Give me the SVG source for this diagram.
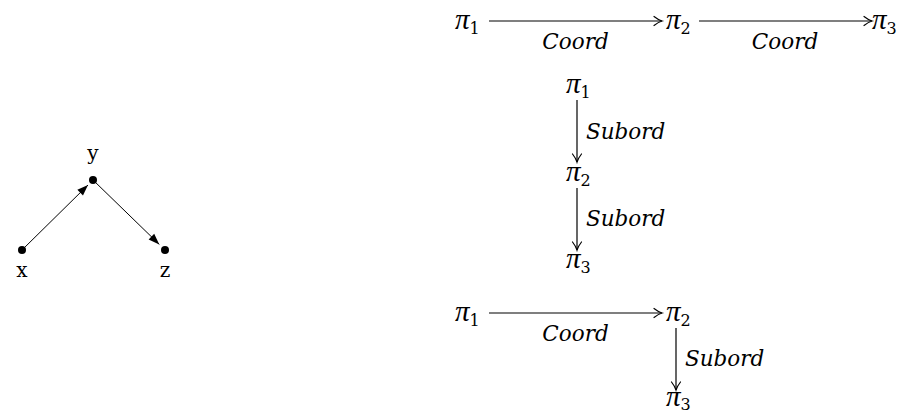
<svg xmlns="http://www.w3.org/2000/svg" width="907" height="414" viewBox="0 0 907 414">
  <style>
    .pt { font-family: "DejaVu Serif", "Liberation Serif", serif; font-size: 20px; fill: #000; }
    .pi { font-family: "Liberation Serif", "DejaVu Serif", serif; font-size: 29px; font-style: italic; fill: #000; }
    .pi tspan.sub { font-family: "DejaVu Serif", "Liberation Serif", serif; font-style: normal; font-size: 16px; }
    .lbl { font-family: "DejaVu Serif", "Liberation Serif", serif; font-size: 21.5px; font-style: italic; fill: #000; }
    .dot { fill: #000; }
    .morph { stroke: #000; stroke-width: 1.2; fill: none; marker-end: url(#to); }
    .tri { stroke: #000; stroke-width: 1; fill: none; marker-end: url(#tri); }
  </style>
  <defs>
    <marker id="to" markerUnits="userSpaceOnUse" markerWidth="12" markerHeight="12" viewBox="-10 -6 12 12" refX="0" refY="0" orient="auto" overflow="visible">
      <path d="M -8 -4.5 Q -3.5 -1 0 0 Q -3.5 1 -8 4.5" fill="none" stroke="#000" stroke-width="1.2" stroke-linecap="round"/>
    </marker>
    <marker id="tri" markerUnits="userSpaceOnUse" markerWidth="14" markerHeight="14" viewBox="-12 -6 14 12" refX="0" refY="0" orient="auto" overflow="visible">
      <path d="M 0 0 L -11 -4 L -11 4 Z" fill="#000"/>
    </marker>
  </defs>

  <!-- connectors: graph edges and labelled morphisms -->
  <g id="connectors">
    <line class="tri" x1="22" y1="250" x2="88" y2="185"/>
    <line class="tri" x1="93" y1="180" x2="159.3" y2="244.4"/>

    <!-- row of coordinations -->
    <line class="morph" x1="489" y1="21" x2="662" y2="21"/>
    <line class="morph" x1="699" y1="21" x2="872" y2="21"/>
    <text class="lbl" x="575.5" y="49" text-anchor="middle">Coord</text>
    <text class="lbl" x="785" y="49" text-anchor="middle">Coord</text>

    <!-- chain of subordinations -->
    <line class="morph" x1="577" y1="100" x2="577" y2="162"/>
    <line class="morph" x1="577" y1="188" x2="577" y2="250"/>
    <text class="lbl" x="586" y="139">Subord</text>
    <text class="lbl" x="586" y="226">Subord</text>

    <!-- coordination then subordination -->
    <line class="morph" x1="489" y1="313" x2="662" y2="313"/>
    <line class="morph" x1="676" y1="328" x2="676" y2="390"/>
    <text class="lbl" x="575.5" y="341" text-anchor="middle">Coord</text>
    <text class="lbl" x="685" y="366">Subord</text>
  </g>

  <g id="node-x">
    <circle class="dot" cx="22" cy="250" r="4"/>
    <text class="pt" x="22" y="277" text-anchor="middle">x</text>
  </g>
  <g id="node-y">
    <circle class="dot" cx="93" cy="180" r="4"/>
    <text class="pt" x="93" y="160" text-anchor="middle">y</text>
  </g>
  <g id="node-z">
    <circle class="dot" cx="165" cy="250" r="4"/>
    <text class="pt" x="165" y="277" text-anchor="middle">z</text>
  </g>

  <g id="row1-pi1"><text class="pi" x="455" y="29">π<tspan class="sub" dy="5">1</tspan></text></g>
  <g id="row1-pi2"><text class="pi" x="666" y="29">π<tspan class="sub" dy="5">2</tspan></text></g>
  <g id="row1-pi3"><text class="pi" x="872" y="29">π<tspan class="sub" dy="5">3</tspan></text></g>

  <g id="col-pi1"><text class="pi" x="566" y="93">π<tspan class="sub" dy="5">1</tspan></text></g>
  <g id="col-pi2"><text class="pi" x="566" y="181">π<tspan class="sub" dy="5">2</tspan></text></g>
  <g id="col-pi3"><text class="pi" x="566" y="268">π<tspan class="sub" dy="5">3</tspan></text></g>

  <g id="mix-pi1"><text class="pi" x="455" y="321">π<tspan class="sub" dy="5">1</tspan></text></g>
  <g id="mix-pi2"><text class="pi" x="666" y="321">π<tspan class="sub" dy="5">2</tspan></text></g>
  <g id="mix-pi3"><text class="pi" x="666" y="406">π<tspan class="sub" dy="4">3</tspan></text></g>
</svg>
